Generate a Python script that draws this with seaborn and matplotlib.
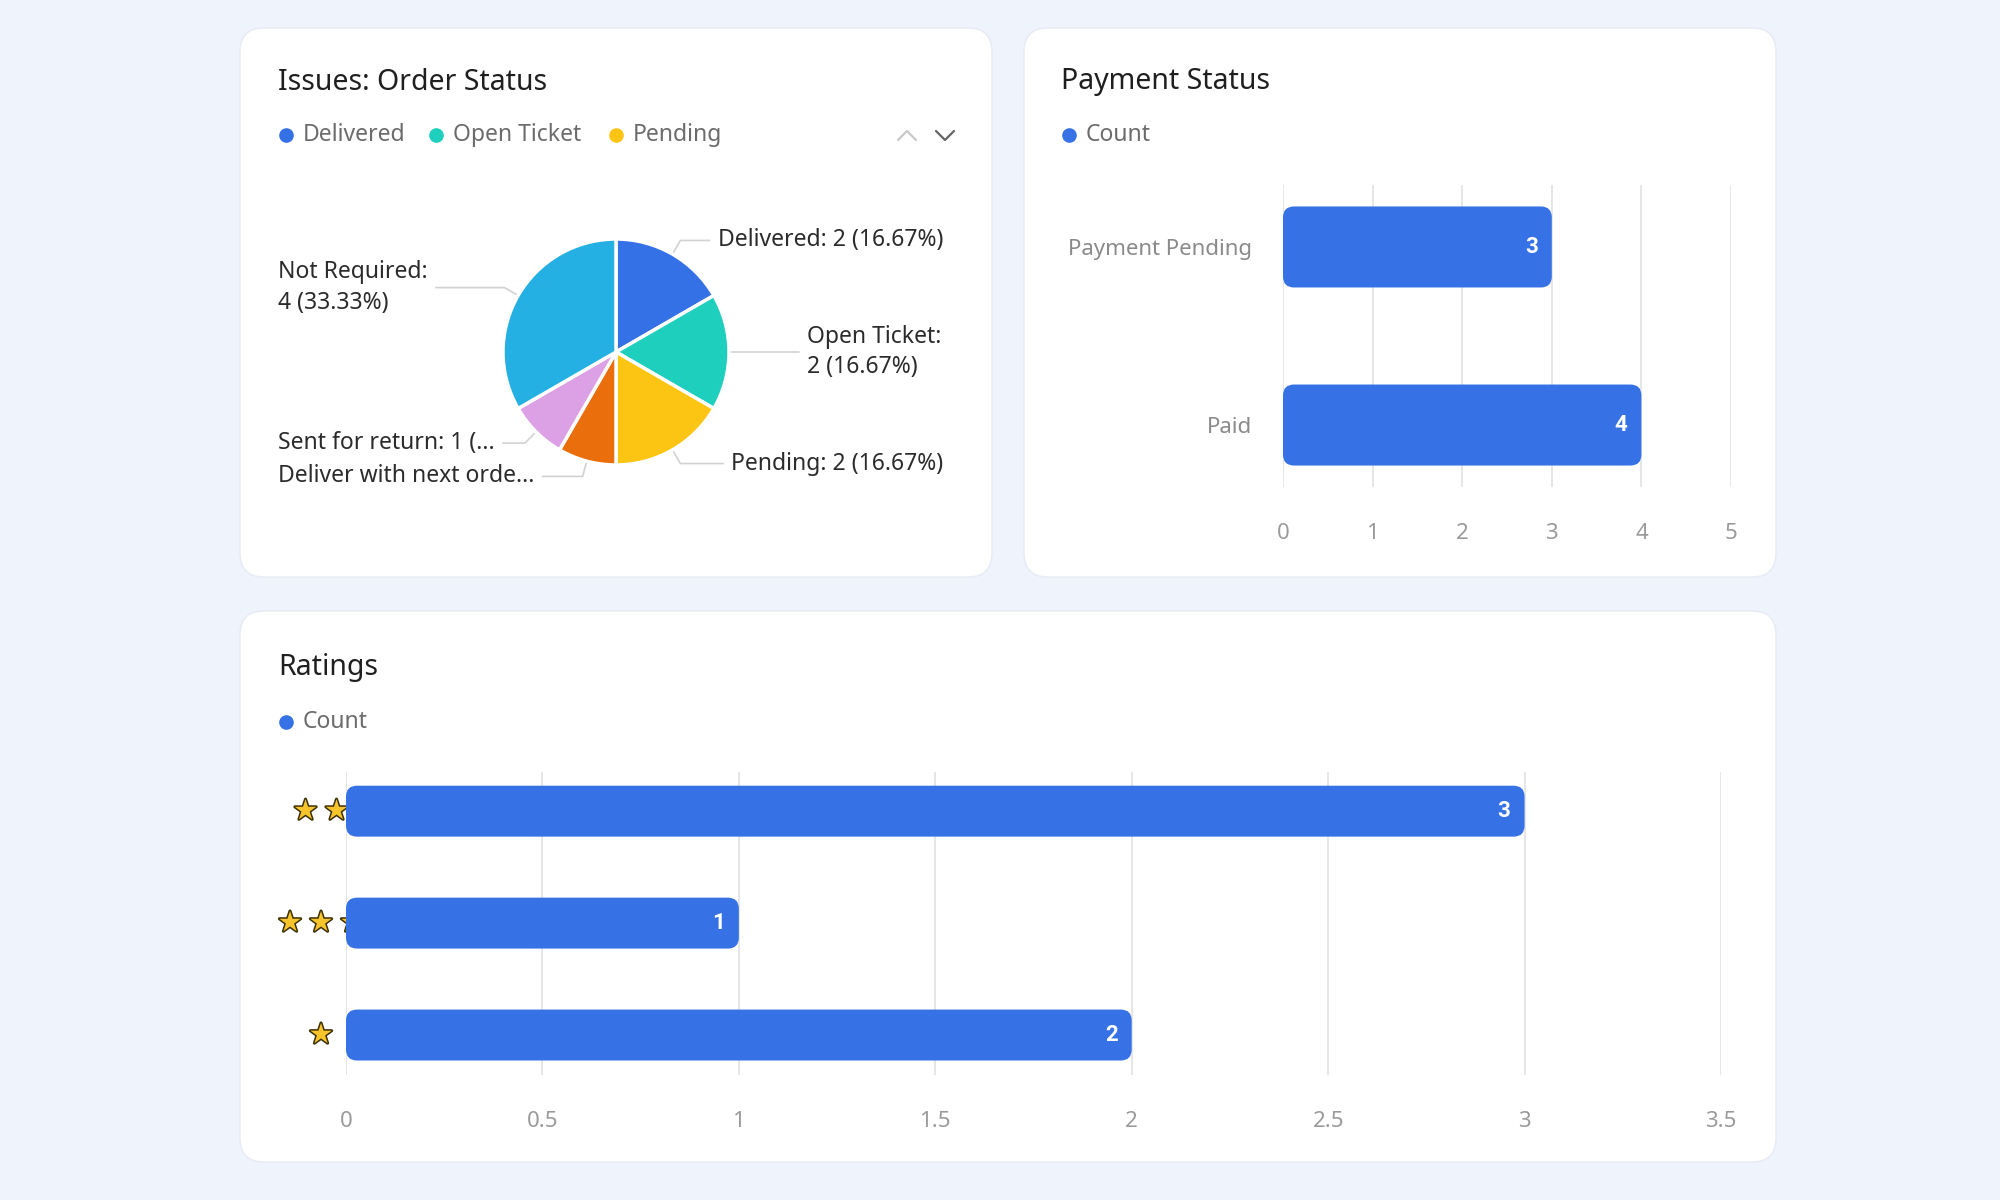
import numpy as np
import pandas as pd
import seaborn as sns
import matplotlib.pyplot as plt
from matplotlib.patches import FancyBboxPatch
from matplotlib.lines import Line2D
import matplotlib.patheffects as pe

sns.set_theme(style='white')
plt.rcParams['font.family'] = ['Noto Sans', 'DejaVu Sans']

# ---- data ----
order_status = ['Delivered', 'Open Ticket', 'Pending', 'Deliver with next order',
                'Sent for return', 'Not Required']
order_counts = [2, 2, 2, 1, 1, 4]
order_colors = ['#3571e6', '#1ecfbd', '#fdc513', '#ea6f0c', '#dca0e5', '#25b0e4']
pie_labels = ['Delivered: 2 (16.67%)', 'Open Ticket:\n2 (16.67%)', 'Pending: 2 (16.67%)',
              'Deliver with next orde...', 'Sent for return: 1 (...', 'Not Required:\n4 (33.33%)']
legend_shown = ['Delivered', 'Open Ticket', 'Pending']

payment_status = ['Payment Pending', 'Paid']
payment_counts = [3, 4]
payment_ticks = [0, 1, 2, 3, 4, 5]

rating_labels = ['★★', '★★★', '★']
rating_counts = [3, 1, 2]
rating_ticks = [0, 0.5, 1, 1.5, 2, 2.5, 3, 3.5]

BLUE = '#3672e6'
BG = '#eef3fc'
W, H = 2000, 1200

def fx(x):
    return x / W

def fy(y):
    return 1 - y / H

fig = plt.figure(figsize=(20, 12), dpi=100, facecolor=BG)

def card(x0, y0, x1, y1):
    p = FancyBboxPatch((fx(x0), fy(y1)), fx(x1) - fx(x0), fy(y0) - fy(y1),
                       boxstyle='round,pad=0,rounding_size=0.012', mutation_aspect=W / H,
                       transform=fig.transFigure, facecolor='white', edgecolor='#e6ebf3',
                       linewidth=1, zorder=-5)
    fig.add_artist(p)

def title(x, y, s):
    fig.text(fx(x), fy(y), s, fontsize=20.5, color='#1f1f1f', va='center', ha='left')

def legend(y, xs, labels, colors):
    for x, lab, c in zip(xs, labels, colors):
        fig.add_artist(Line2D([fx(x)], [fy(y)], marker='o', markersize=9.5, color=c,
                              linestyle='none', transform=fig.transFigure))
        fig.text(fx(x + 17), fy(y), lab, fontsize=16.5, color='#6b6b6b', va='center', ha='left')

def axes_px(x0, y0, x1, y1):
    ax = fig.add_axes([fx(x0), fy(y1), (x1 - x0) / W, (y1 - y0) / H])
    ax.patch.set_alpha(0)
    return ax

def round_bars(ax, xlim, ylim, wpx, hpx, rad=11):
    rx = rad * (xlim[1] - xlim[0]) / wpx
    ry = rad * abs(ylim[1] - ylim[0]) / hpx
    out = []
    for p in list(ax.patches):
        x, y, w, h = p.get_x(), p.get_y(), p.get_width(), p.get_height()
        fc = p.get_facecolor()
        p.remove()
        nb = FancyBboxPatch((x, y), w, h, boxstyle=f'round,pad=0,rounding_size={rx}',
                            mutation_aspect=ry / rx, facecolor=fc, edgecolor='none', zorder=2)
        ax.add_patch(nb)
        out.append((x + w, y + h / 2))
    return out

def style_bar_axes(ax, ticks):
    sns.despine(ax=ax, left=True, bottom=True)
    ax.set_xticks(ticks)
    ax.set_xticklabels([f'{t:g}' for t in ticks])
    ax.grid(axis='x', color='#e4e4e4', linewidth=1.3)
    ax.grid(axis='y', visible=False)
    ax.set_axisbelow(True)
    ax.tick_params(axis='x', length=0, labelsize=16, labelcolor='#9a9a9a', pad=26)
    ax.tick_params(axis='y', length=0, labelsize=16, labelcolor='#8a8a8a', pad=22)
    ax.set_xlabel('')
    ax.set_ylabel('')

def value_labels(ax, ends, vals):
    for (xe, yc), v in zip(ends, vals):
        ax.annotate(str(v), (xe, yc), xytext=(-14, 0), textcoords='offset pixels', ha='right',
                    va='center', color='white', fontsize=16, fontweight='bold',
                    family=['Roboto', 'DejaVu Sans'], zorder=3)

# ---- cards ----
card(240, 28, 992, 577)
card(1024, 28, 1776, 577)
card(240, 611, 1776, 1162)

# ---- Issues: Order Status (pie) ----
title(278, 82, 'Issues: Order Status')
legend(135, [286, 436, 616], legend_shown, order_colors[:3])
fig.add_artist(Line2D([fx(898), fx(907), fx(916)], [fy(140), fy(131), fy(140)],
                      color='#c9c9c9', linewidth=1.6, transform=fig.transFigure))
fig.add_artist(Line2D([fx(936), fx(945), fx(954)], [fy(131), fy(140), fy(131)],
                      color='#666666', linewidth=1.6, transform=fig.transFigure))

cx, cy, r = 616, 352, 113
ax_pie = axes_px(cx - r, cy - r, cx + r, cy + r)
wedges, _ = ax_pie.pie(order_counts, colors=order_colors, startangle=90, counterclock=False,
                       wedgeprops=dict(edgecolor='white', linewidth=2.5))
ax_pie.set_xlim(-1, 1)
ax_pie.set_ylim(-1, 1)

label_x = [0.90, 1.69, 1.02, -2.99, -2.99, -2.99]
texts = []
elbows = []
for wdg, lab, lx in zip(wedges, pie_labels, label_x):
    a = np.deg2rad((wdg.theta1 + wdg.theta2) / 2)
    ex, ey = 1.14 * np.cos(a), 1.14 * np.sin(a)
    t = ax_pie.text(lx, ey, lab, fontsize=16.5, color='#2b2b2b', ha='left', va='center',
                    linespacing=1.35, clip_on=False)
    texts.append(t)
    elbows.append((np.cos(a), np.sin(a), ex, ey))

fig.canvas.draw()
inv = ax_pie.transData.inverted()
for t, (sx, sy, ex, ey) in zip(texts, elbows):
    bb = t.get_window_extent()
    (l, _), (rr, _) = inv.transform([[bb.x0, bb.y0], [bb.x1, bb.y1]])
    gap = 8 / r
    end = l - gap if ex > 0 else rr + gap
    ax_pie.plot([sx * 1.01, ex, end], [sy * 1.01, ey, ey], color='#d2d2d2', linewidth=1.2,
                clip_on=False, zorder=0)

# ---- Payment Status (bars) ----
title(1061, 82, 'Payment Status')
legend(135, [1069], ['Count'], [BLUE])

px0, py0, px1, py1 = 1283, 185, 1731, 487
ax2 = axes_px(px0, py0, px1, py1)
pay_df = pd.DataFrame({'status': payment_status, 'count': payment_counts})
sns.barplot(data=pay_df, y='status', x='count', orient='h', color=BLUE, saturation=1,
            width=0.455, ax=ax2)
style_bar_axes(ax2, payment_ticks)
ax2.set_xlim(0, 5)
ax2.set_ylim(1.348, -0.348)
ends = round_bars(ax2, (0, 5), (1.348, -0.348), px1 - px0, py1 - py0)
value_labels(ax2, ends, payment_counts)

# ---- Ratings (bars) ----
title(278, 668, 'Ratings')
legend(722, [286], ['Count'], [BLUE])

rx0, ry0, rx1, ry1 = 346, 772, 1721, 1075
ax3 = axes_px(rx0, ry0, rx1, ry1)
rat_df = pd.DataFrame({'rating': rating_labels, 'count': rating_counts})
sns.barplot(data=rat_df, y='rating', x='count', orient='h', color=BLUE, saturation=1,
            width=0.455, ax=ax3)
style_bar_axes(ax3, rating_ticks)
ax3.set_xlim(0, 3.5)
ax3.set_ylim(2.357, -0.35)
ax3.set_yticklabels([])
ends = round_bars(ax3, (0, 3.5), (2.357, -0.35), rx1 - rx0, ry1 - ry0)
value_labels(ax3, ends, rating_counts)

# star labels, centred left of the axis, tucked under the bars
star_fx = [pe.Stroke(linewidth=2.2, foreground='#3b3000'), pe.Normal()]
for i, lab in enumerate(rating_labels):
    n = len(lab)
    for k in range(n):
        off = -25 + (k - (n - 1) / 2) * 31
        ax3.annotate('★', (0, i), xytext=(off, 0), textcoords='offset pixels',
                     xycoords=('axes fraction', 'data'), ha='center', va='center',
                     fontsize=20, color='#f7c42c', family='DejaVu Sans',
                     path_effects=star_fx, zorder=0.5, annotation_clip=False)

fig.savefig('out.png', dpi=100, facecolor=BG)
